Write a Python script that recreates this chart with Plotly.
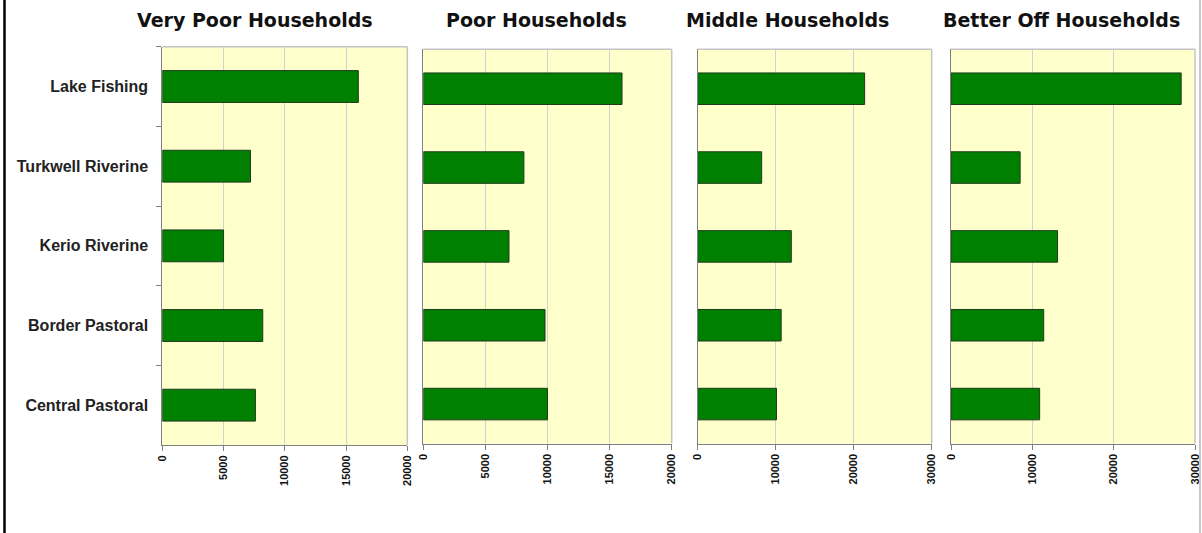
import plotly.graph_objects as go

W, H = 1202, 533

zones = ["Lake Fishing", "Turkwell Riverine", "Kerio Riverine", "Border Pastoral", "Central Pastoral"]
groups = ["Very Poor Households", "Poor Households", "Middle Households", "Better Off Households"]

very_poor = [16000, 7200, 5000, 8200, 7600]
poor = [16000, 8100, 6900, 9800, 10000]
middle = [21400, 8200, 12000, 10700, 10100]
better_off = [28300, 8500, 13100, 11400, 10900]

series = [very_poor, poor, middle, better_off]
x_max = [20000, 20000, 30000, 30000]
x_step = [5000, 5000, 10000, 10000]

# panel boxes in pixels: (left, right, top, bottom)
boxes = [
    (162.3, 407.3, 46.7, 445.0),
    (423.3, 671.7, 49.3, 443.5),
    (697.7, 931.7, 49.3, 443.5),
    (951.0, 1195.0, 49.3, 443.5),
]
title_cx = [254.5, 536, 787.5, 1061]

AXIS = "#808080"
FRAME = "#c4c4c4"
GRID = "#d2d2d2"

fig = go.Figure()
shapes = []
annotations = []

for i, (vals, box) in enumerate(zip(series, boxes)):
    n = "" if i == 0 else str(i + 1)
    xa, ya = "x" + n, "y" + n
    fig.add_trace(go.Bar(
        x=vals, y=zones, orientation="h", width=0.4,
        marker=dict(color="#008000", line=dict(color="#1e3a1e", width=1)),
        xaxis=xa, yaxis=ya, showlegend=False,
    ))
    l, r, t, b = box
    fig.update_layout(**{
        "xaxis" + n: dict(
            domain=[l / W, r / W], anchor=ya, range=[0, x_max[i]],
            dtick=x_step[i], tick0=0, tickangle=-90, tickformat="d",
            showgrid=True, gridcolor=GRID, gridwidth=1, zeroline=False,
            showline=True, linecolor=AXIS, linewidth=1,
            ticks="outside", ticklen=5, tickcolor=AXIS,
            tickfont=dict(family="Liberation Sans, Arial", size=11, color="#111", weight="bold"),
            automargin=False, fixedrange=True,
        ),
        "yaxis" + n: dict(
            domain=[1 - b / H, 1 - t / H], anchor=xa,
            type="category", categoryorder="array", categoryarray=zones,
            autorange="reversed",
            showgrid=False, zeroline=False,
            showline=True, linecolor=AXIS, linewidth=1,
            ticks="outside" if i == 0 else "", tickson="boundaries",
            ticklen=5, tickcolor=AXIS,
            showticklabels=(i == 0), ticklabelstandoff=10,
            tickfont=dict(family="Liberation Sans, Arial", size=16, color="#222", weight="bold"),
            automargin=False, fixedrange=True,
        ),
    })
    # light top and right frame edges of each panel
    shapes.append(dict(type="line", xref="paper", yref="paper",
                       x0=l / W, x1=r / W, y0=1 - t / H, y1=1 - t / H,
                       line=dict(color=FRAME, width=1.5), layer="above"))
    shapes.append(dict(type="line", xref="paper", yref="paper",
                       x0=r / W, x1=r / W, y0=1 - t / H, y1=1 - b / H,
                       line=dict(color=FRAME, width=1.5), layer="above"))
    annotations.append(dict(
        text=groups[i], xref="paper", yref="paper",
        x=title_cx[i] / W, y=1 - 20 / H, xanchor="center", yanchor="middle",
        showarrow=False,
        font=dict(family="DejaVu Sans", size=19, color="#111", weight="bold"),
    ))

# outer frame edges
shapes.append(dict(type="line", xref="paper", yref="paper", x0=4.5 / W, x1=4.5 / W, y0=0, y1=1,
                   line=dict(color="#000", width=2.5)))
shapes.append(dict(type="line", xref="paper", yref="paper", x0=1200 / W, x1=1200 / W, y0=0, y1=1,
                   line=dict(color="#c8c8c8", width=2)))

fig.update_layout(
    width=W, height=H,
    margin=dict(l=0, r=0, t=0, b=0),
    paper_bgcolor="white", plot_bgcolor="#ffffcc",
    shapes=shapes, annotations=annotations,
    bargap=0.6,
)

fig.write_html(
    "out.html",
    config={"displayModeBar": False},
    post_script="document.body.style.margin='0';document.body.style.overflow='hidden';",
)
